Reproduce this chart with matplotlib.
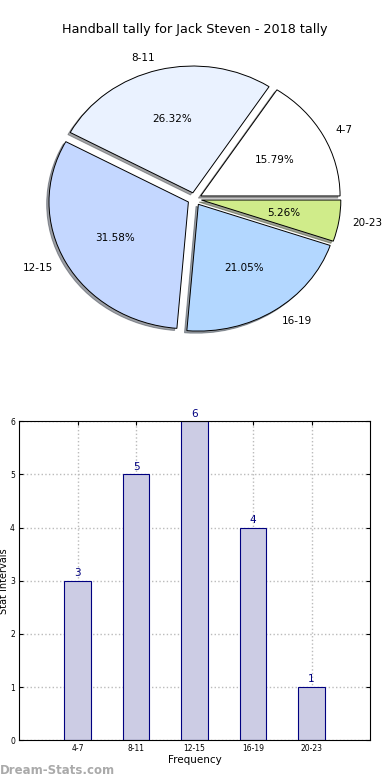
import matplotlib.pyplot as plt

labels = ["4-7", "8-11", "12-15", "16-19", "20-23"]
counts = [3, 5, 6, 4, 1]
pie_colors = ["#ffffff", "#eaf2ff", "#c4d7ff", "#b3d7ff", "#d0ec8a"]

fig = plt.figure(figsize=(3.9, 7.8), dpi=100)

# pie (old style, not equal aspect)
ax1 = fig.add_axes([0.052, 0.5417, 0.8936, 0.4064])
wedges, texts, autotexts = ax1.pie(counts, labels=labels, colors=pie_colors,
                                   explode=[0.05] * 5, autopct="%1.2f%%",
                                   shadow=dict(ox=-0.012, oy=-0.012),
                                   startangle=0,
                                   wedgeprops=dict(edgecolor="black", linewidth=0.7),
                                   textprops=dict(fontsize=7.5))
ax1.set_aspect("auto")
ax1.set_xlim(-1.25, 1.25)
ax1.set_ylim(-1.25, 1.25)
fig.text(0.5, 1 - 30 / 780, "Handball tally for Jack Steven - 2018 tally",
         ha="center", va="center", fontsize=9.2)

# bar chart
ax2 = fig.add_axes([0.049, 0.051, 0.9, 0.409])
x = list(range(len(labels)))
bars = ax2.bar(x, counts, width=0.45, color="#ccccE4", edgecolor="#000080",
               linewidth=0.8, zorder=2)
for xi, c in zip(x, counts):
    ax2.text(xi, c + 0.05, str(c), ha="center", va="bottom", color="#000080",
             fontsize=7.5)
ax2.set_xlim(-1, 5)
ax2.set_ylim(0, 6)
ax2.set_xticks(x)
ax2.set_xticklabels(labels)
ax2.set_yticks(range(7))
ax2.tick_params(labelsize=5.5, direction="in", top=True, right=True, length=3,
                pad=3)
ax2.grid(True, linestyle=":", color="#bbbbbb", linewidth=1, zorder=0)
ax2.set_axisbelow(True)
ax2.set_xlabel("Frequency", fontsize=7.5, labelpad=1)
ax2.set_ylabel("Stat Intervals", fontsize=7)
ax2.yaxis.set_label_coords(-0.029, 0.5)

fig.text(0.0, 1 - 771 / 780, "Dream-Stats.com", ha="left", va="center",
         fontsize=8.5, color="#aaaaaa", fontweight="bold")

plt.savefig("out.png", dpi=100)
